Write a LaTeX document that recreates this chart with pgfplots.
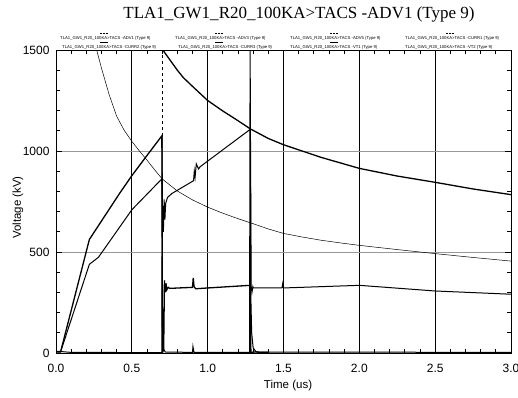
\documentclass[border=0pt]{standalone}
\usepackage{pgfplots}
\pgfplotsset{compat=1.18}
\usepackage{fontspec}
\setmainfont{Liberation Sans}
\newfontfamily\titlefont{Liberation Serif}
\begin{document}
\begin{tikzpicture}[x=1pt,y=1pt]
\useasboundingbox (0,0) rectangle (518,397);
\begin{axis}[
  at={(56pt,44pt)}, anchor=south west,
  scale only axis, width=455pt, height=303pt,
  xmin=0, xmax=3, ymin=0, ymax=1500,
  xtick={0,0.5,1,1.5,2,2.5,3},
  xticklabels={0.0,0.5,1.0,1.5,2.0,2.5,3.0},
  ytick={0,500,1000,1500},
  yticklabels={0,500,1000,1500},
  minor x tick num=4, minor y tick num=4,
  tick align=inside,
  major tick length=6pt, minor tick length=4pt,
  xmajorgrids, ymajorgrids,
  x grid style={black, line width=0.7pt},
  y grid style={gray!80, line width=0.7pt},
  axis line style={black, line width=0.8pt},
  tick style={black, line width=0.7pt},
  ticklabel style={font=\fontsize{12}{12}\selectfont},
  xticklabel style={yshift=-8pt},
  yticklabel style={xshift=-3pt},
  /pgf/number format/assume math mode=true,
  xlabel={Time (us)},
  xlabel style={font=\fontsize{11.5}{12}\selectfont, at={(axis description cs:0.51,0)}, anchor=center, yshift=-33pt},
  ylabel={Voltage (kV)},
  ylabel style={font=\fontsize{11.5}{12}\selectfont, at={(axis description cs:-0.0835,0.48)}, anchor=center},
  clip=true,
]
% thin decaying curve
\addplot[black, line width=0.5pt] coordinates {
(0.27,1495)(0.3,1410)(0.35,1280)(0.4,1172)(0.45,1102)(0.5,1048)(0.55,1000)(0.6,955)(0.65,907)(0.7,862)(0.8,802)(0.9,758)(1.0,722)(1.1,692)(1.2,665)(1.3,640)(1.4,614)(1.5,592)(1.625,574)(1.75,558)(1.875,545)(2.0,533)(2.25,512)(2.5,492)(2.75,473)(3.0,455)};
% thick decaying curve
\addplot[black, line width=1.3pt] coordinates {
(0.709,1495)(0.8,1400)(0.84,1363)(0.9,1320)(1.0,1250)(1.1,1198)(1.2,1150)(1.28,1110)(1.4,1062)(1.5,1031)(1.75,968)(2.0,914)(2.25,876)(2.5,845)(2.75,812)(3.0,784)};
% steep rising line then flat level
\addplot[black, line width=1.3pt] coordinates {
(0,5)(0.03,5)(0.22,562)(0.42,791)(0.5,878)(0.6,978)(0.698,1075)(0.702,0)(0.71,20)(0.715,360)(0.72,300)(0.725,345)(0.73,312)(0.74,325)(0.75,320)(0.9,325)(0.905,372)(0.91,330)(0.92,318)(1.0,322)(1.28,335)(1.285,0)(1.3,5)(1.4,3)};
% second rising line
\addplot[black, line width=1.0pt] coordinates {
(0,5)(0.03,5)(0.22,439)(0.28,474)(0.5,709)(0.698,862)(0.703,700)(0.708,600)(0.713,760)(0.718,660)(0.723,740)(0.735,770)(0.765,790)(0.907,853)(0.912,900)(0.917,870)(0.925,936)(0.94,911)(0.95,922)(1.282,1108)(1.287,330)(1.292,300)(1.298,328)(1.3,322)(1.49,322)(1.495,344)(1.5,322)(2.0,335)(2.5,307)(3.0,291)};
% near-zero trace with spikes
\addplot[black, line width=1.0pt] coordinates {
(0,8)(0.02,8)(0.1,3)(0.698,2)(0.7,1075)(0.703,30)(0.72,5)(0.9,3)(0.903,32)(0.91,3)(1.276,3)(1.28,1600)(1.284,300)(1.29,100)(1.30,25)(1.32,5)(3.0,3)};
\addplot[black, line width=0.8pt, dash pattern=on 3pt off 3pt] coordinates {(0.7,1075)(0.7,1500)};
\end{axis}
\node[font=\titlefont\fontsize{17}{17}\selectfont] at (299,383) {TLA1\_GW1\_R20\_100KA>TACS -ADV1 (Type 9)};
\begin{scope}[every node/.style={font=\fontsize{4.2}{4.2}\selectfont, inner sep=0pt, anchor=west}]
\node at (60,359) {TLA1\_GW1\_R20\_100KA>TACS -ADV1 (Type 9)};
\node at (175,359) {TLA1\_GW1\_R20\_100KA>TACS -ADV3 (Type 9)};
\node at (290,359) {TLA1\_GW1\_R20\_100KA>TACS -ADV5 (Type 9)};
\node at (405,359) {TLA1\_GW1\_R20\_100KA>TACS -CURR1 (Type 9)};
\node at (62,350) {TLA1\_GW1\_R20\_100KA>TACS -CURR2 (Type 9)};
\node at (178,350) {TLA1\_GW1\_R20\_100KA>TACS -CURR3 (Type 9)};
\node at (290,350) {TLA1\_GW1\_R20\_100KA>TACS -VT1 (Type 9)};
\node at (405,350) {TLA1\_GW1\_R20\_100KA>TACS -VT2 (Type 9)};
\end{scope}
\draw[line width=0.6pt, dash pattern=on 0.8pt off 0.6pt] (100,364) -- (108,364);
\draw[line width=0.6pt, dash pattern=on 0.8pt off 0.6pt] (215,364) -- (223,364);
\draw[line width=0.6pt, dash pattern=on 0.8pt off 0.6pt] (330,364) -- (338,364);
\draw[line width=0.6pt, dash pattern=on 0.8pt off 0.6pt] (446,364) -- (454,364);
\draw[line width=0.6pt] (100,354.5) -- (108,354.5);
\draw[line width=1.2pt] (215,354.5) -- (223,354.5);
\draw[line width=1.4pt] (330,354.5) -- (338,354.5);
\end{tikzpicture}
\end{document}
